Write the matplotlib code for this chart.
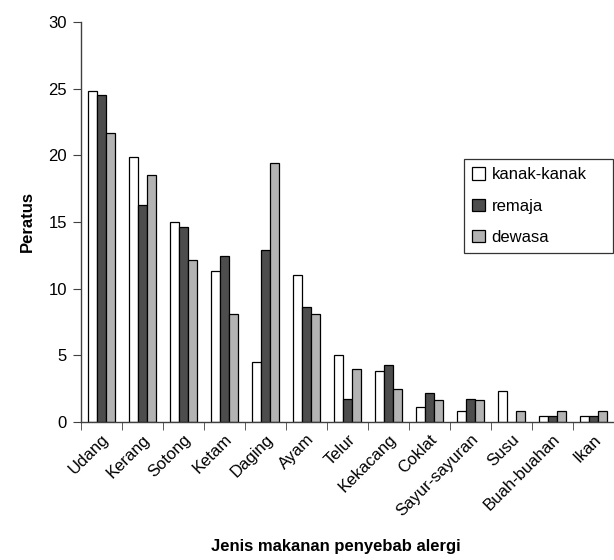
import matplotlib
matplotlib.use("Agg")
import matplotlib.pyplot as plt
import numpy as np
from matplotlib.patches import Patch

plt.rcParams['font.family'] = ['Liberation Sans', 'DejaVu Sans']

categories = ["Udang", "Kerang", "Sotong", "Ketam", "Daging", "Ayam", "Telur",
              "Kekacang", "Coklat", "Sayur-sayuran", "Susu", "Buah-buahan", "Ikan"]
kanak = [24.8, 19.9, 15.0, 11.3, 4.5, 11.0, 5.0, 3.8, 1.15, 0.83, 2.35, 0.43, 0.43]
remaja = [24.5, 16.3, 14.6, 12.45, 12.9, 8.6, 1.75, 4.3, 2.15, 1.75, 0.0, 0.43, 0.43]
dewasa = [21.7, 18.5, 12.15, 8.1, 19.4, 8.1, 4.0, 2.5, 1.65, 1.65, 0.83, 0.83, 0.83]
series_names = ["kanak-kanak", "remaja", "dewasa"]
colors = ["#ffffff", "#4d4d4d", "#b3b3b3"]
yticks = [0, 5, 10, 15, 20, 25, 30]

FS = 12

fig = plt.figure(figsize=(6.14, 5.6), dpi=100)
ax = fig.add_axes([81/614, (560-422)/560, (614-81)/614, 400/560])

x = np.arange(len(categories))
w = 0.223
for i, (vals, c) in enumerate(zip([kanak, remaja, dewasa], colors)):
    ax.bar(x + (i - 1) * w, vals, width=w, color=c, edgecolor="black", linewidth=0.9)

ax.set_xlim(-0.5, -0.5 + 533/41.2)
ax.set_ylim(0, 30)
ax.set_yticks(yticks)
ax.set_yticklabels([str(v) for v in yticks], fontsize=FS)
ax.set_xticks(x)
ax.set_xticklabels(categories, rotation=45, ha='right', rotation_mode='anchor', fontsize=FS)
ax.tick_params(axis='x', which='major', length=0, pad=7)
ax.set_xticks(np.arange(-0.5, len(categories), 1), minor=True)
ax.tick_params(axis='x', which='minor', length=6, color='#404040', direction='out')
ax.tick_params(axis='y', length=6, color='#404040', direction='out', pad=4)

for s in ['top', 'right']:
    ax.spines[s].set_visible(False)
for s in ['left', 'bottom']:
    ax.spines[s].set_color('#404040')
    ax.spines[s].set_linewidth(1.0)

ax.set_ylabel("Peratus", fontsize=FS, fontweight='bold', labelpad=10)
fig.text(336/614, 1 - 546/560, "Jenis makanan penyebab alergi", fontsize=FS,
         fontweight='bold', ha='center', va='center')

handles = [Patch(facecolor=c, edgecolor='black', linewidth=0.9) for c in colors]
leg = fig.legend(handles, series_names, loc='upper left', mode='expand',
                 bbox_to_anchor=(464/614, 1 - 159/560, 149/614, 0.0), borderaxespad=0,
                 fontsize=FS, frameon=True, fancybox=False, labelspacing=0.97,
                 handlelength=0.75, handleheight=0.75, handletextpad=0.4,
                 borderpad=0.5)
leg.get_frame().set_edgecolor('black')
leg.get_frame().set_linewidth(0.9)

fig.savefig("out.png", dpi=100)
